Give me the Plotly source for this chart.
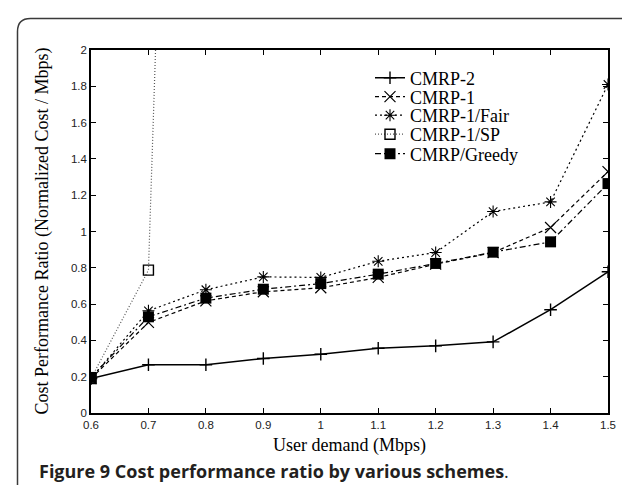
import plotly.graph_objects as go

# ---- data ----
demand = [0.6, 0.7, 0.8, 0.9, 1.0, 1.1, 1.2, 1.3, 1.4, 1.5]
cmrp2 = [0.19, 0.266, 0.266, 0.30, 0.324, 0.357, 0.370, 0.392, 0.569, 0.778]
cmrp1 = [0.19, 0.499, 0.618, 0.668, 0.690, 0.747, 0.820, 0.884, 1.022, 1.330]
cmrp1_fair = [0.19, 0.563, 0.679, 0.750, 0.747, 0.836, 0.884, 1.110, 1.163, 1.810]
sp_demand = [0.6, 0.7, 0.8]
cmrp1_sp = [0.19, 0.787, 10.6]
greedy = [0.196, 0.530, 0.633, 0.682, 0.713, 0.765, 0.824, 0.886, 0.943, 1.264]

x_tickvals = [0.6, 0.7, 0.8, 0.9, 1.0, 1.1, 1.2, 1.3, 1.4, 1.5]
x_ticktext = ["0.6", "0.7", "0.8", "0.9", "1", "1.1", "1.2", "1.3", "1.4", "1.5"]
y_tickvals = [0, 0.2, 0.4, 0.6, 0.8, 1.0, 1.2, 1.4, 1.6, 1.8, 2.0]
y_ticktext = ["0", "0.2", "0.4", "0.6", "0.8", "1", "1.2", "1.4", "1.6", "1.8", "2"]

W, H = 630, 485
ML, MR, MT, MB = 83, 30, 42, 80
PW, PH = W - ML - MR, H - MT - MB


def px(xp):
    return (xp - ML) / PW


def py(yp):
    return (H - MB - yp) / PH


SERIF = "Liberation Serif, Times New Roman, serif"
SANS = "Liberation Sans, Arial, sans-serif"

fig = go.Figure()

fig.add_trace(go.Scatter(
    x=demand, y=cmrp2, name="CMRP-2", mode="lines+markers", legend="legend",
    line=dict(color="black", width=1.5),
    marker=dict(symbol="cross-thin", size=9, line=dict(color="black", width=1.4)),
))
fig.add_trace(go.Scatter(
    x=demand, y=cmrp1, name="CMRP-1", mode="lines+markers", legend="legend2",
    line=dict(color="black", width=1.2, dash="4px,3px"),
    marker=dict(symbol="x-thin", size=11, line=dict(color="black", width=1.2)),
))
fig.add_trace(go.Scatter(
    x=demand, y=cmrp1_fair, name="CMRP-1/Fair", mode="lines+markers", legend="legend3",
    line=dict(color="black", width=1.2, dash="2px,3px"),
    marker=dict(symbol="asterisk-open", size=10, line=dict(color="black", width=1.1)),
))
fig.add_trace(go.Scatter(
    x=sp_demand, y=cmrp1_sp, name="CMRP-1/SP", mode="lines+markers", legend="legend4",
    line=dict(color="#555555", width=1.2, dash="1px,2px"),
    marker=dict(symbol="square-open", size=10, color="black", line=dict(color="black", width=1.4)),
))
fig.add_trace(go.Scatter(
    x=demand, y=greedy, name="CMRP/Greedy", mode="lines+markers", legend="legend5",
    line=dict(color="black", width=1.2, dash="6px,3px,2px,3px"),
    marker=dict(symbol="square", size=11, color="black"),
))

axis_common = dict(
    showline=True, linecolor="black", linewidth=1.5, mirror="ticks",
    ticks="inside", ticklen=5, tickwidth=1, tickcolor="black",
    showgrid=False, zeroline=False,
    tickfont=dict(family=SANS, size=11.5, color="#222222"),
)

fig.update_xaxes(range=[0.6, 1.5], tickvals=x_tickvals, ticktext=x_ticktext, **axis_common)
fig.update_yaxes(range=[0, 2], tickvals=y_tickvals, ticktext=y_ticktext, **axis_common)

legend_rows = [70, 89, 107.5, 126.5, 146]
leg_names = ["legend", "legend2", "legend3", "legend4", "legend5"]
leg_layout = {}
for name, row in zip(leg_names, legend_rows):
    leg_layout[name] = dict(
        x=px(362), y=py(row), xanchor="left", yanchor="middle",
        bgcolor="rgba(0,0,0,0)", borderwidth=0,
        font=dict(family=SERIF, size=18, color="black"),
        itemwidth=30,
    )

# figure frame (rounded rectangle)
l, r, t, b, rad = 9.5, 627, 10.5, 520, 13
frame_path = (
    f"M {px(l)},{py(b)} L {px(l)},{py(t + rad)} "
    f"Q {px(l)},{py(t)} {px(l + rad)},{py(t)} "
    f"L {px(r - rad)},{py(t)} Q {px(r)},{py(t)} {px(r)},{py(t + rad)} "
    f"L {px(r)},{py(b)}"
)

fig.update_layout(
    width=W, height=H,
    margin=dict(l=ML, r=MR, t=MT, b=MB),
    paper_bgcolor="white", plot_bgcolor="white",
    showlegend=True,
    **leg_layout,
    shapes=[dict(type="path", path=frame_path, xref="paper", yref="paper",
                 line=dict(color="#3a3a3a", width=1.5), layer="above")],
    annotations=[
        dict(text="Cost Performance Ratio (Normalized Cost / Mbps)", textangle=-90,
             x=px(34), y=py(223.5), xref="paper", yref="paper",
             xanchor="center", yanchor="middle", showarrow=False,
             font=dict(family=SERIF, size=18, color="black")),
        dict(text="User demand (Mbps)",
             x=px(341), y=py(437), xref="paper", yref="paper",
             xanchor="center", yanchor="middle", showarrow=False,
             font=dict(family=SERIF, size=18, color="black")),
        dict(text="<b>Figure 9 Cost performance ratio by various schemes</b>.",
             x=px(29), y=py(462.5), xref="paper", yref="paper",
             xanchor="left", yanchor="middle", showarrow=False,
             font=dict(family="Open Sans, sans-serif", size=18, color="#231f20")),
    ],
)

fig.write_html("out.html")
